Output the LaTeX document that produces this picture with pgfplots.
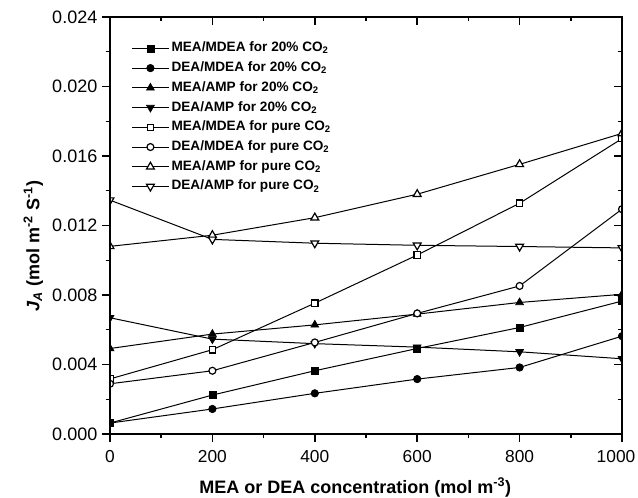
\documentclass[border=0pt]{standalone}
\usepackage{fontspec}
\setmainfont{Liberation Sans}
\usepackage{pgfplots}
\pgfplotsset{compat=1.18}

\pgfplotsset{
  jbase/.style={
    width=384pt, height=312.75pt, scale only axis,
    xmin=0, xmax=1000, ymin=0, ymax=0.024,
    xtick={0,200,400,600,800,1000},
    ytick={0,0.004,0.008,0.012,0.016,0.020,0.024},
    minor x tick num=1, minor y tick num=1,
    axis line style={line width=1.5pt},
    major tick length=6pt, minor tick length=3pt,
    every tick/.append style={black, line width=1.1pt},
    scaled ticks=false,
  },
}

\begin{document}
\begin{tikzpicture}
\begin{axis}[
    jbase, name=ax,
    tick align=outside, tick pos=left,
    clip marker paths=true,
    /pgf/number format/assume math mode=true,
    tick label style={font=\fontsize{13.5}{15}\selectfont},
    yticklabel style={/pgf/number format/fixed, /pgf/number format/precision=3,
                      /pgf/number format/fixed zerofill},
    xticklabel={\ifnum\ticknum=5 \hspace*{-9pt}\fi\pgfmathprintnumber[1000 sep={}]{\tick}},
    xticklabel style={font=\fontsize{13}{15}\selectfont, yshift=-3pt},
    xlabel={\textbf{MEA or DEA concentration (mol m\textsuperscript{-3})}},
    ylabel={\textbf{\textit{J}\textsubscript{\textit{A}} (mol m\textsuperscript{-2} S\textsuperscript{-1})}},
    label style={font=\fontsize{13.5}{15}\selectfont},
    xlabel style={at={(ticklabel cs:0.479)}, yshift=-4pt},
    ylabel style={at={(ticklabel cs:0.45)}},
    legend style={draw=none, fill=none, at={(axis description cs:0.041,0.949)},
                  anchor=north west, inner sep=0pt,
                  font=\fontsize{10.2}{12}\selectfont\bfseries,
                  nodes={inner xsep=1.5pt, inner ysep=0pt, text height=10pt, text depth=4.8pt}},
    legend cell align=left,
    legend image code/.code={\draw[mark repeat=2,mark phase=2]
        plot coordinates {(0pt,0pt)(14pt,0pt)(28pt,0pt)};},
    every axis plot/.append style={black, line width=0.75pt},
  ]
  \addplot[mark=square*, mark size=2.6pt, mark options={fill=black, line width=0.5pt}] coordinates {
    (0,0.00063) (200,0.00224) (400,0.00364) (600,0.00492) (800,0.00613) (1000,0.00765)};
  \addlegendentry{MEA/MDEA for 20\% CO\textsubscript{2}}
  \addplot[mark=*, mark size=2.8pt, mark options={fill=black, line width=0.5pt}] coordinates {
    (0,0.00063) (200,0.00144) (400,0.00234) (600,0.00316) (800,0.00383) (1000,0.00563)};
  \addlegendentry{DEA/MDEA for 20\% CO\textsubscript{2}}
  \addplot[mark=triangle*, mark size=3.4pt, mark options={fill=black, line width=0.5pt}] coordinates {
    (0,0.00492) (200,0.00575) (400,0.00628) (600,0.00690) (800,0.00757) (1000,0.00804)};
  \addlegendentry{MEA/AMP for 20\% CO\textsubscript{2}}
  \addplot[mark=triangle*, mark size=3.4pt, mark options={fill=black, line width=0.5pt, rotate=180}] coordinates {
    (0,0.00669) (200,0.00546) (400,0.00520) (600,0.00500) (800,0.00473) (1000,0.00433)};
  \addlegendentry{DEA/AMP for 20\% CO\textsubscript{2}}
  \addplot[mark=square*, mark size=2.4pt, mark options={fill=white, line width=0.9pt}] coordinates {
    (0,0.00317) (200,0.00485) (400,0.00753) (600,0.01030) (800,0.01328) (1000,0.01700)};
  \addlegendentry{MEA/MDEA for pure CO\textsubscript{2}}
  \addplot[mark=*, mark size=2.6pt, mark options={fill=white, line width=0.9pt}] coordinates {
    (0,0.00289) (200,0.00364) (400,0.00527) (600,0.00694) (800,0.00852) (1000,0.01294)};
  \addlegendentry{DEA/MDEA for pure CO\textsubscript{2}}
  \addplot[mark=triangle*, mark size=3.4pt, mark options={fill=white, line width=0.9pt}] coordinates {
    (0,0.01080) (200,0.01144) (400,0.01245) (600,0.01380) (800,0.01552) (1000,0.01730)};
  \addlegendentry{MEA/AMP for pure CO\textsubscript{2}}
  \addplot[mark=triangle*, mark size=3.4pt, mark options={fill=white, line width=0.9pt, rotate=180}] coordinates {
    (0,0.01346) (200,0.01120) (400,0.01098) (600,0.01086) (800,0.01079) (1000,0.01071)};
  \addlegendentry{DEA/AMP for pure CO\textsubscript{2}}
\end{axis}
\begin{axis}[
    jbase,
    tick align=inside, tick pos=right,
    xticklabels={}, yticklabels={},
  ]
\end{axis}
\pgfresetboundingbox
\useasboundingbox ([shift={(-82.5pt,-48pt)}]ax.south west)
  rectangle ([shift={(12pt,12.75pt)}]ax.north east);
\end{tikzpicture}
\end{document}
